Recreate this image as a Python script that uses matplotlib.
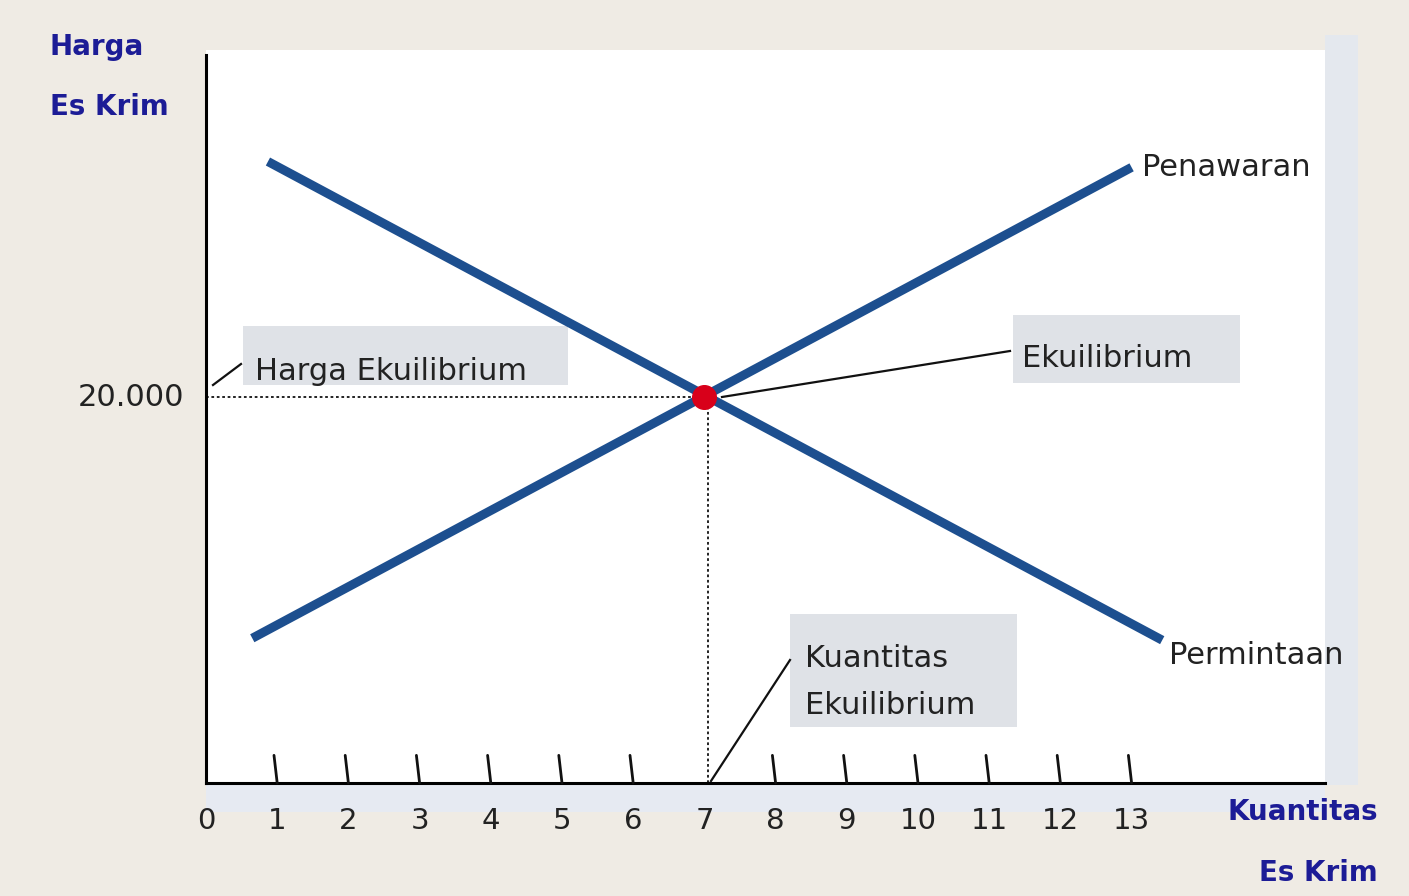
import matplotlib.pyplot as plt
from matplotlib.patches import Rectangle

# data
q_supply = [0.65, 13.0]
p_supply = [7500, 31900]
q_demand = [0.87, 13.43]
p_demand = [32200, 7400]
q_eq = 7
p_eq = 20000
ticks = list(range(0, 14))
tick_labels = [str(t) for t in ticks]
price_label = '20.000'

line_col = '#1d4f8f'
title_col = '#1c1c96'
box_col = '#dfe2e7'
txt_col = '#222222'

fig = plt.figure(figsize=(14.09, 8.96), dpi=100)
fig.patch.set_facecolor('#efebe4')

# white panel + pale strips (behind the axes)
fig.patches.append(Rectangle((206/1409, 1-783/896), (1325-206)/1409, (783-50)/896,
                             transform=fig.transFigure, facecolor='white', edgecolor='none', zorder=-2))
fig.patches.append(Rectangle((1325/1409, 1-785/896), 33/1409, (785-35)/896,
                             transform=fig.transFigure, facecolor='#e4e8ee', edgecolor='none', zorder=-2))
fig.patches.append(Rectangle((206/1409, 1-812/896), (1325-206)/1409, 28/896,
                             transform=fig.transFigure, facecolor='#e6eaf2', edgecolor='none', zorder=-2))

ax = fig.add_axes([206/1409, 1-783/896, (1325-206)/1409, (783-55)/896])
ax.set_facecolor('none')
ax.set_xlim(0, (1325-206)/71.2)
ax.set_ylim(0, 20000*(783-55)/386)
for s in ['top', 'right']:
    ax.spines[s].set_visible(False)
ax.spines['left'].set_linewidth(2.2)
ax.spines['bottom'].set_linewidth(2.2)
ax.set_xticks([])
ax.set_yticks([])

ymax = ax.get_ylim()[1]
# slanted tick marks (the one at the equilibrium quantity is covered by the guide)
for t in ticks[1:]:
    if t == q_eq:
        continue
    ax.plot([t - 0.045, t], [0.038*ymax, 0], color='#111111', lw=2, solid_capstyle='round',
            clip_on=False, zorder=3)
for t, lab in zip(ticks, tick_labels):
    ax.text(t, -0.052*ymax, lab, ha='center', va='center', fontsize=21, color=txt_col)

ax.text(-0.3, p_eq, price_label, ha='right', va='center', fontsize=22, color=txt_col)

# dotted guides
ax.plot([0, q_eq], [p_eq, p_eq], color='#111111', lw=1.3, ls=(0, (1.5, 1.5)), zorder=2)
ax.plot([q_eq + 0.05, q_eq + 0.05], [0, p_eq], color='#111111', lw=1.3, ls=(0, (1.5, 1.5)), zorder=2)

# curves
ax.plot(q_supply, p_supply, color=line_col, lw=6.5, solid_capstyle='butt', zorder=4)
ax.plot(q_demand, p_demand, color=line_col, lw=6.5, solid_capstyle='butt', zorder=4)
ax.plot([q_eq], [p_eq], 'o', ms=17, color='#d8001a', zorder=5)

ax.text(q_supply[1] + 0.15, p_supply[1], 'Penawaran', ha='left', va='center', fontsize=22, color=txt_col)
ax.text(q_demand[1] + 0.1, p_demand[1] - 800, 'Permintaan', ha='left', va='center', fontsize=22, color=txt_col)

# annotation boxes
def px2d(x, y):
    return (x - 206) / 71.2, (783 - y) / 386 * 20000

def box(x0, y0, x1, y1):
    a = px2d(x0, y1)
    b = px2d(x1, y0)
    ax.add_patch(Rectangle(a, b[0]-a[0], b[1]-a[1], facecolor=box_col, edgecolor='none', zorder=1))

box(243, 326, 568, 385)
ax.text(*px2d(255, 372), 'Harga Ekuilibrium', ha='left', va='center', fontsize=22, color=txt_col, zorder=6)
ax.plot(*zip(px2d(213, 385), px2d(241, 364)), color='#111111', lw=1.6, zorder=6)

box(1013, 315, 1240, 383)
ax.text(*px2d(1022, 358), 'Ekuilibrium', ha='left', va='center', fontsize=22, color=txt_col, zorder=6)
ax.plot(*zip(px2d(722, 397), px2d(1010, 351)), color='#111111', lw=1.6, zorder=6)

box(790, 614, 1017, 727)
ax.text(*px2d(805, 658), 'Kuantitas', ha='left', va='center', fontsize=22, color=txt_col, zorder=6)
ax.text(*px2d(805, 705), 'Ekuilibrium', ha='left', va='center', fontsize=22, color=txt_col, zorder=6)
ax.plot(*zip(px2d(711, 781), px2d(790, 660)), color='#111111', lw=1.6, zorder=6)

# axis titles
fig.text(50/1409, 1-47/896, 'Harga', ha='left', va='center', fontsize=20, fontweight='bold', color=title_col)
fig.text(50/1409, 1-107/896, 'Es Krim', ha='left', va='center', fontsize=20, fontweight='bold', color=title_col)
fig.text(1378/1409, 1-812/896, 'Kuantitas', ha='right', va='center', fontsize=20, fontweight='bold', color=title_col)
fig.text(1378/1409, 1-873/896, 'Es Krim', ha='right', va='center', fontsize=20, fontweight='bold', color=title_col)

fig.savefig('out.png', dpi=100, facecolor=fig.get_facecolor())
